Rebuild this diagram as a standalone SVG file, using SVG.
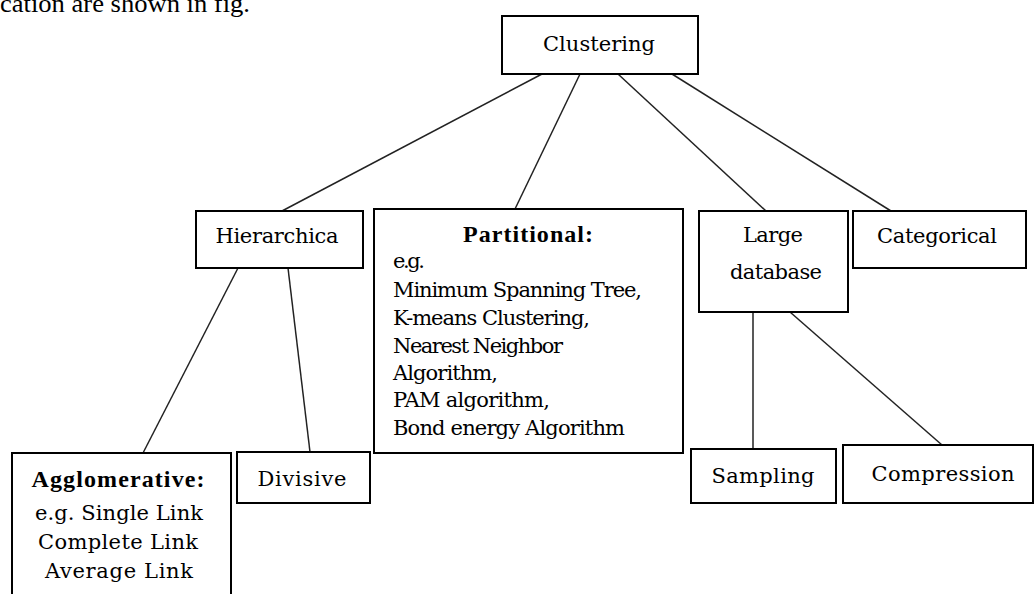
<svg xmlns="http://www.w3.org/2000/svg" width="1034" height="594" viewBox="0 0 1034 594">
<style>
.box{fill:#fff;stroke:#000;stroke-width:2}
.t{font-family:"DejaVu Serif","Liberation Serif",serif;font-size:21px;fill:#000}
.c{text-anchor:middle}
.b{font-family:"Liberation Serif",serif;font-size:24px;font-weight:bold}
.ln{stroke:#222;stroke-width:1.5;fill:none}
</style>
<rect width="1034" height="594" fill="#fff"/>
<text x="0" y="12" style="font-family:'Liberation Serif',serif;font-size:25px" textLength="250" lengthAdjust="spacingAndGlyphs">cation are shown in fig.</text>
<g id="connectors">
<line class="ln" x1="542" y1="74" x2="282" y2="211"/>
<line class="ln" x1="580" y1="74" x2="515" y2="209"/>
<line class="ln" x1="618" y1="74" x2="766" y2="211"/>
<line class="ln" x1="672" y1="74" x2="891" y2="211"/>
<line class="ln" x1="238" y1="268" x2="143" y2="453"/>
<line class="ln" x1="288" y1="268" x2="310" y2="452"/>
<line class="ln" x1="753" y1="312" x2="753" y2="449"/>
<line class="ln" x1="790" y1="312" x2="942" y2="445"/>
</g>
<g id="clustering">
<rect class="box" x="502" y="16" width="196" height="58"/>
<text class="t c" x="599" y="51" textLength="112">Clustering</text>
</g>
<g id="hierarchica">
<rect class="box" x="196" y="211" width="167" height="57"/>
<text class="t c" x="277" y="243" textLength="123">Hierarchica</text>
</g>
<g id="partitional">
<rect class="box" x="374" y="209" width="309" height="244"/>
<text class="t c b" x="528" y="242" textLength="130">Partitional:</text>
<text class="t" x="393" y="268" textLength="32">e.g.</text>
<text class="t" x="393" y="297" textLength="249">Minimum Spanning Tree,</text>
<text class="t" x="393" y="325" textLength="197">K-means Clustering,</text>
<text class="t" x="393" y="353" textLength="170">Nearest Neighbor</text>
<text class="t" x="393" y="380" textLength="105">Algorithm,</text>
<text class="t" x="393" y="407" textLength="157">PAM algorithm,</text>
<text class="t" x="393" y="435" textLength="232">Bond energy Algorithm</text>
</g>
<g id="large-database">
<rect class="box" x="699" y="211" width="149" height="101"/>
<text class="t c" x="773" y="242" textLength="60">Large</text>
<text class="t c" x="776" y="279" textLength="92">database</text>
</g>
<g id="categorical">
<rect class="box" x="853" y="211" width="173" height="57"/>
<text class="t c" x="937" y="243" textLength="120">Categorical</text>
</g>
<g id="agglomerative">
<rect class="box" x="12" y="453" width="219" height="150"/>
<text class="t c b" x="118" y="487" textLength="173">Agglomerative:</text>
<text class="t c" x="119" y="520" textLength="168">e.g. Single Link</text>
<text class="t c" x="118" y="549" textLength="160">Complete Link</text>
<text class="t c" x="119" y="578" textLength="148">Average Link</text>
</g>
<g id="divisive">
<rect class="box" x="237" y="452" width="133" height="51"/>
<text class="t c" x="302" y="486" textLength="89">Divisive</text>
</g>
<g id="sampling">
<rect class="box" x="691" y="449" width="145" height="54"/>
<text class="t c" x="763" y="483" textLength="103">Sampling</text>
</g>
<g id="compression">
<rect class="box" x="843" y="445" width="190" height="58"/>
<text class="t c" x="943" y="481" textLength="143">Compression</text>
</g>
</svg>
